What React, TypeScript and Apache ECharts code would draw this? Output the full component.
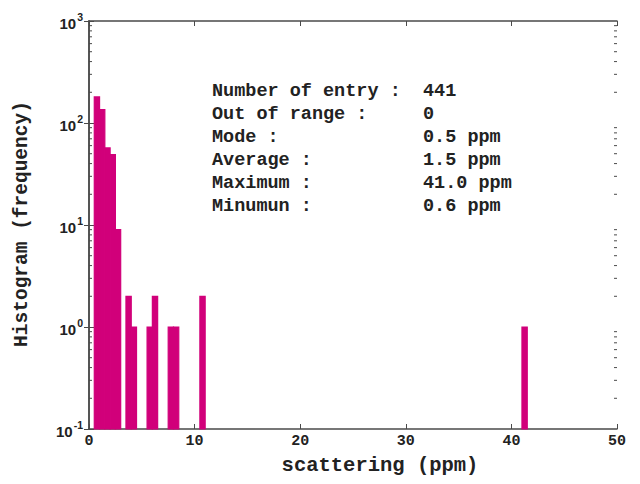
import React, { useEffect, useRef } from "react";
import * as echarts from "echarts";

// Histogram bins (start of each 0.5 ppm bin) and their counts
const binStarts = [0.5, 1.0, 1.5, 2.0, 2.5, 3.5, 4.0, 5.5, 6.0, 7.5, 8.0, 10.5, 41.0];
const counts = [180, 135, 57, 49, 9, 2, 1, 1, 2, 1, 1, 2, 1];
const binWidth = 0.5;

const xTicks = [0, 10, 20, 30, 40, 50];
const yDecades = [0.1, 1, 10, 100, 1000];
const minorMultipliers = [2, 3, 4, 5, 6, 7, 8, 9];

const statLabels = [
  "Number of entry :",
  "Out of range :",
  "Mode :",
  "Average :",
  "Maximum :",
  "Minumun :",
];
const statValues = ["441", "0", "0.5 ppm", "1.5 ppm", "41.0 ppm", "0.6 ppm"];

const xTitle = "scattering (ppm)";
const yTitle = "Histogram (frequency)";

const BAR_COLOR = "#D1007A";
const AXIS_COLOR = "#4a4a4a";
const TEXT_COLOR = "#222222";
const MONO = "'Liberation Mono', 'DejaVu Sans Mono', monospace";
const SANS = "'Liberation Sans', Arial, sans-serif";

export default function App() {
  const ref = useRef<HTMLDivElement>(null);

  useEffect(() => {
    if (!ref.current) return;
    const chart = echarts.init(ref.current, undefined, { renderer: "svg" });

    const minorVals: number[] = [];
    for (let i = 0; i < yDecades.length - 1; i++) {
      for (const m of minorMultipliers) minorVals.push(yDecades[i] * m);
    }

    const yAxisBase = (position: "left" | "right", showLabel: boolean) => ({
      type: "log",
      logBase: 10,
      min: yDecades[0],
      max: yDecades[yDecades.length - 1],
      position,
      axisLine: { show: true, lineStyle: { color: AXIS_COLOR, width: 1.5 } },
      axisTick: { show: true, inside: true, length: 5, lineStyle: { color: AXIS_COLOR, width: 1 } },
      splitLine: { show: false },
      axisLabel: {
        show: showLabel,
        margin: 6,
        formatter: (v: number) => {
          const e = Math.round(Math.log10(v));
          return `{b|10}{s|${e}}`;
        },
        rich: {
          b: { fontSize: 15, fontWeight: "bold", fontFamily: SANS, color: TEXT_COLOR, verticalAlign: "bottom" },
          s: { fontSize: 10.5, fontWeight: "bold", fontFamily: SANS, color: TEXT_COLOR, verticalAlign: "top", padding: [0, 0, 8, 1] },
        },
      },
    });

    const xAxisBase = (position: "bottom" | "top", showLabel: boolean) => ({
      type: "value",
      min: xTicks[0],
      max: xTicks[xTicks.length - 1],
      interval: 10,
      position,
      axisLine: { show: true, lineStyle: { color: AXIS_COLOR, width: 1.5 } },
      axisTick: { show: true, inside: true, length: 5, lineStyle: { color: AXIS_COLOR, width: 1 } },
      splitLine: { show: false },
      axisLabel: {
        show: showLabel,
        margin: 5,
        fontSize: 15,
        fontWeight: "bold",
        fontFamily: MONO,
        color: TEXT_COLOR,
      },
    });

    const lineTop = 91;
    const lineStep = 23;
    const graphics: any[] = [];
    statLabels.forEach((t, i) => {
      graphics.push({
        type: "text",
        x: 212,
        y: lineTop + i * lineStep,
        style: { text: t, font: `bold 18.5px ${MONO}`, fill: TEXT_COLOR, verticalAlign: "middle" },
      });
      graphics.push({
        type: "text",
        x: 423,
        y: lineTop + i * lineStep,
        style: { text: statValues[i], font: `bold 18.5px ${MONO}`, fill: TEXT_COLOR, verticalAlign: "middle" },
      });
    });
    graphics.push({
      type: "text",
      x: 380,
      y: 465,
      style: { text: xTitle, font: `bold 20.5px ${MONO}`, fill: TEXT_COLOR, align: "center", verticalAlign: "middle" },
    });
    graphics.push({
      type: "text",
      x: 22,
      y: 224,
      rotation: Math.PI / 2,
      style: { text: yTitle, font: `bold 19.5px ${MONO}`, fill: TEXT_COLOR, align: "center", verticalAlign: "middle" },
    });

    chart.setOption({
      animation: false,
      backgroundColor: "#ffffff",
      grid: { left: 89, right: 23, top: 21, bottom: 55, containLabel: false },
      xAxis: [xAxisBase("bottom", true), xAxisBase("top", false)],
      yAxis: [yAxisBase("left", true), yAxisBase("right", false)],
      graphic: graphics,
      series: [
        {
          type: "custom",
          xAxisIndex: 0,
          yAxisIndex: 0,
          data: binStarts.map((s, i) => [s, counts[i]]),
          renderItem: (_params: any, api: any) => {
            const x0 = api.value(0);
            const c = api.value(1);
            const pTop = api.coord([x0, c]);
            const pBot = api.coord([x0 + binWidth, yDecades[0]]);
            return {
              type: "rect",
              shape: { x: pTop[0], y: pTop[1], width: pBot[0] - pTop[0], height: pBot[1] - pTop[1] },
              style: { fill: BAR_COLOR, stroke: BAR_COLOR, lineWidth: 1.2 },
            };
          },
          z: 1,
        },
        {
          type: "custom",
          xAxisIndex: 0,
          yAxisIndex: 0,
          data: minorVals.map((v) => [0, v]),
          renderItem: (_params: any, api: any) => {
            const v = api.value(1);
            const l = api.coord([xTicks[0], v]);
            const r = api.coord([xTicks[xTicks.length - 1], v]);
            return {
              type: "group",
              children: [
                { type: "line", shape: { x1: l[0], y1: l[1], x2: l[0] + 3, y2: l[1] }, style: { stroke: AXIS_COLOR, lineWidth: 1 } },
                { type: "line", shape: { x1: r[0] - 3, y1: r[1], x2: r[0], y2: r[1] }, style: { stroke: AXIS_COLOR, lineWidth: 1 } },
              ],
            };
          },
          z: 3,
        },
      ],
    });

    return () => chart.dispose();
  }, []);

  return <div ref={ref} style={{ position: "absolute", left: 0, top: 0, width: 640, height: 484 }} />;
}
